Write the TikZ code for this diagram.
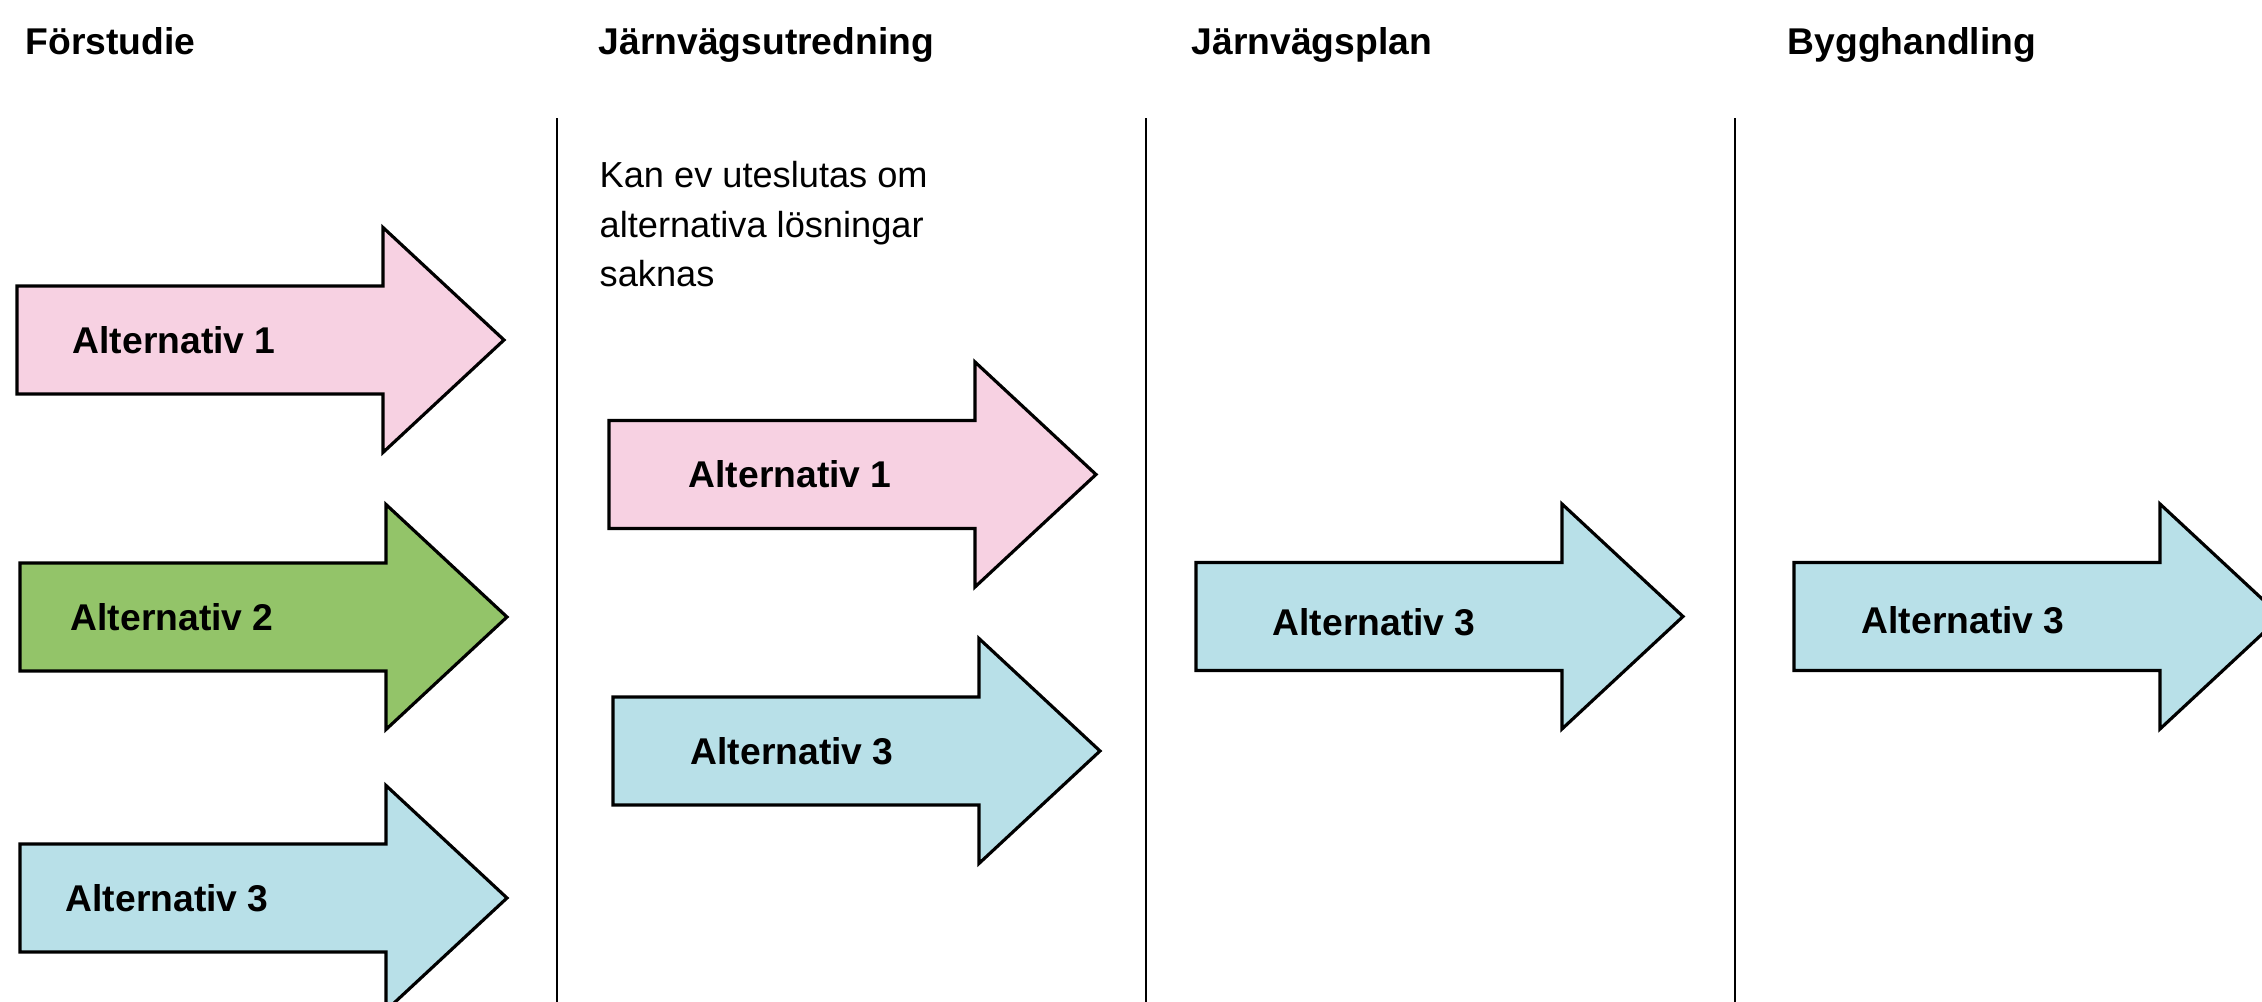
\documentclass[tikz,border=0pt]{standalone}
\usepackage{fontspec}
\setmainfont{Liberation Sans}
\usetikzlibrary{positioning}

\definecolor{rosa}{RGB}{247,209,226}
\definecolor{gron}{RGB}{147,196,105}
\definecolor{bla}{RGB}{184,224,232}

% pil med svansen mitt i (#1), fylld med #2
\newcommand{\pil}[2]{%
  \draw[pilkant, fill=#2] (#1) ++(0,0.54) -- ++(3.66,0) -- ++(0,0.585) -- ++(1.21,-1.125)
    -- ++(-1.21,-1.125) -- ++(0,0.585) -- ++(-3.66,0) -- cycle;}

\begin{document}
\begin{tikzpicture}
	\tikzstyle{rubrik} = [font=\fontsize{10.6}{13}\selectfont\bfseries, anchor=base west, inner sep=0]
	\tikzstyle{alttext} = [font=\fontsize{10.6}{13}\selectfont\bfseries, inner sep=0]
	\tikzstyle{notis} = [font=\fontsize{10.3}{14.2}\selectfont, anchor=base west, inner sep=0, align=left]
	\tikzstyle{pilkant} = [draw=black, line width=0.9pt, line join=miter]
	\tikzstyle{skiljelinje} = [draw=black, line width=0.8pt]
	\useasboundingbox (0,0) rectangle (22.62,10.02);
	% rubriker
	\node[rubrik] (forstudie) at (0.25, 9.47) {Förstudie};
	\node[rubrik] (utredning) at (5.98, 9.47) {Järnvägsutredning};
	\node[rubrik] (plan) at (11.91, 9.47) {Järnvägsplan};
	\node[rubrik] (bygg) at (17.87, 9.47) {Bygghandling};
	% sista raden ligger på baslinjen
	\node[notis] (notis) at (5.99, 7.15) {Kan ev uteslutas om\\alternativa lösningar\\saknas};
	% skiljelinjer
	\foreach \x in {5.57, 11.46, 17.35}
		\draw[skiljelinje] (\x, 0) -- (\x, 8.84);
	% pilar
	\coordinate (f1) at (0.17, 6.62);
	\coordinate (f2) at (0.20, 3.85);
	\coordinate (f3) at (0.20, 1.04);
	\coordinate (u1) at (6.09, 5.275);
	\coordinate (u3) at (6.13, 2.51);
	\coordinate (p3) at (11.96, 3.855);
	\coordinate (b3) at (17.94, 3.855);
	\pil{f1}{rosa}
	\pil{f2}{gron}
	\pil{f3}{bla}
	\pil{u1}{rosa}
	\pil{u3}{bla}
	\pil{p3}{bla}
	\pil{b3}{bla}
	\node[alttext, right=0.55cm of f1] (f1text) {Alternativ 1};
	\node[alttext, right=0.50cm of f2] (f2text) {Alternativ 2};
	\node[alttext, right=0.45cm of f3] (f3text) {Alternativ 3};
	\node[alttext, right=0.79cm of u1] (u1text) {Alternativ 1};
	\node[alttext, right=0.77cm of u3] (u3text) {Alternativ 3};
	\node[alttext, right=0.76cm of p3, yshift=-0.06cm] (p3text) {Alternativ 3};
	\node[alttext, right=0.67cm of b3, yshift=-0.04cm] (b3text) {Alternativ 3};
\end{tikzpicture}
\end{document}
